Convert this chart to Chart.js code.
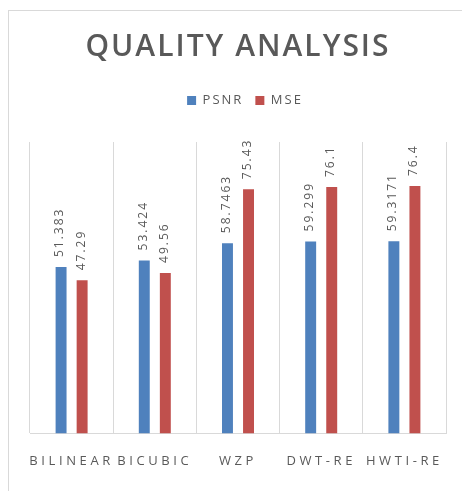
<!DOCTYPE html>
<html>
<head>
<meta charset="utf-8">
<script src="https://cdn.jsdelivr.net/npm/chart.js@4"></script>
<style>
  html, body { margin: 0; padding: 0; background: #fff; overflow: hidden; }
  #frame { position: absolute; left: 8px; top: 10px; width: 480px; height: 500px; border: 1px solid #d9d9d9; }
  #wrap { position: absolute; left: 0; top: 0; width: 462px; height: 491px; }
</style>
</head>
<body>
<div id="frame"></div>
<div id="wrap"><canvas id="qualityChart"></canvas></div>
<script>
// chart data
const methods = ['BILINEAR', 'BICUBIC', 'WZP', 'DWT-RE', 'HWTI-RE'];
const psnrValues = [51.383, 53.424, 58.7463, 59.299, 59.3171];
const mseValues = [47.29, 49.56, 75.43, 76.1, 76.4];

const textGray = '#595959';
const gridGray = '#d9d9d9';

// rotated value labels above each bar + letter spacing per part
const spacingPlugin = {
    id: 'spacing',
    beforeInit(chart) {
        // extra room between legend and plot
        const fit = chart.legend.fit;
        chart.legend.fit = function () {
            fit.call(this);
            this.height += 25;
        };
    },
    beforeDraw(chart) {
        chart.ctx.letterSpacing = '2px';
    },
    afterDatasetsDraw(chart) {
        const ctx = chart.ctx;
        ctx.save();
        ctx.letterSpacing = '2px';
        ctx.fillStyle = textGray;
        ctx.font = '12px "Open Sans"';
        ctx.textAlign = 'left';
        ctx.textBaseline = 'middle';
        chart.data.datasets.forEach((ds, i) => {
            chart.getDatasetMeta(i).data.forEach((bar, j) => {
                ctx.save();
                ctx.translate(bar.x - 1, bar.y - 10);
                ctx.rotate(-Math.PI / 2);
                ctx.fillText(String(ds.data[j]), 0, 0);
                ctx.restore();
            });
        });
        ctx.restore();
        // x tick labels are drawn after the datasets (ticks.z: 1)
        ctx.letterSpacing = '3.6px';
    },
    afterDraw(chart) {
        chart.ctx.letterSpacing = '0px';
    }
};

const ctx = document.getElementById('qualityChart').getContext('2d');
new Chart(ctx, {
    type: 'bar',
    data: {
        labels: methods,
        datasets: [{
            label: 'PSNR',
            data: psnrValues,
            backgroundColor: '#4f81bd'
        }, {
            label: 'MSE',
            data: mseValues,
            backgroundColor: '#c0504d'
        }]
    },
    options: {
        responsive: true,
        maintainAspectRatio: false,
        animation: false,
        categoryPercentage: 0.506,
        barPercentage: 0.52,
        layout: {
            padding: { left: 30, right: 16, top: 0, bottom: 2 }
        },
        plugins: {
            title: {
                display: true,
                text: 'QUALITY ANALYSIS',
                color: textGray,
                font: { family: '"Open Sans"', size: 30, weight: '600' },
                padding: { top: 29, bottom: 17 }
            },
            legend: {
                position: 'top',
                labels: {
                    color: textGray,
                    font: { family: '"Open Sans"', size: 13 },
                    boxWidth: 9,
                    boxHeight: 9,
                    padding: 12
                }
            },
            tooltip: { enabled: false }
        },
        scales: {
            x: {
                grid: { color: gridGray, offset: true, drawTicks: false },
                border: { color: gridGray },
                ticks: {
                    z: 1,
                    color: textGray,
                    font: { family: '"Open Sans"', size: 13 },
                    maxRotation: 0,
                    autoSkip: false,
                    padding: 20
                }
            },
            y: {
                display: false,
                min: 0,
                max: 90
            }
        }
    },
    plugins: [spacingPlugin]
});
</script>
</body>
</html>
